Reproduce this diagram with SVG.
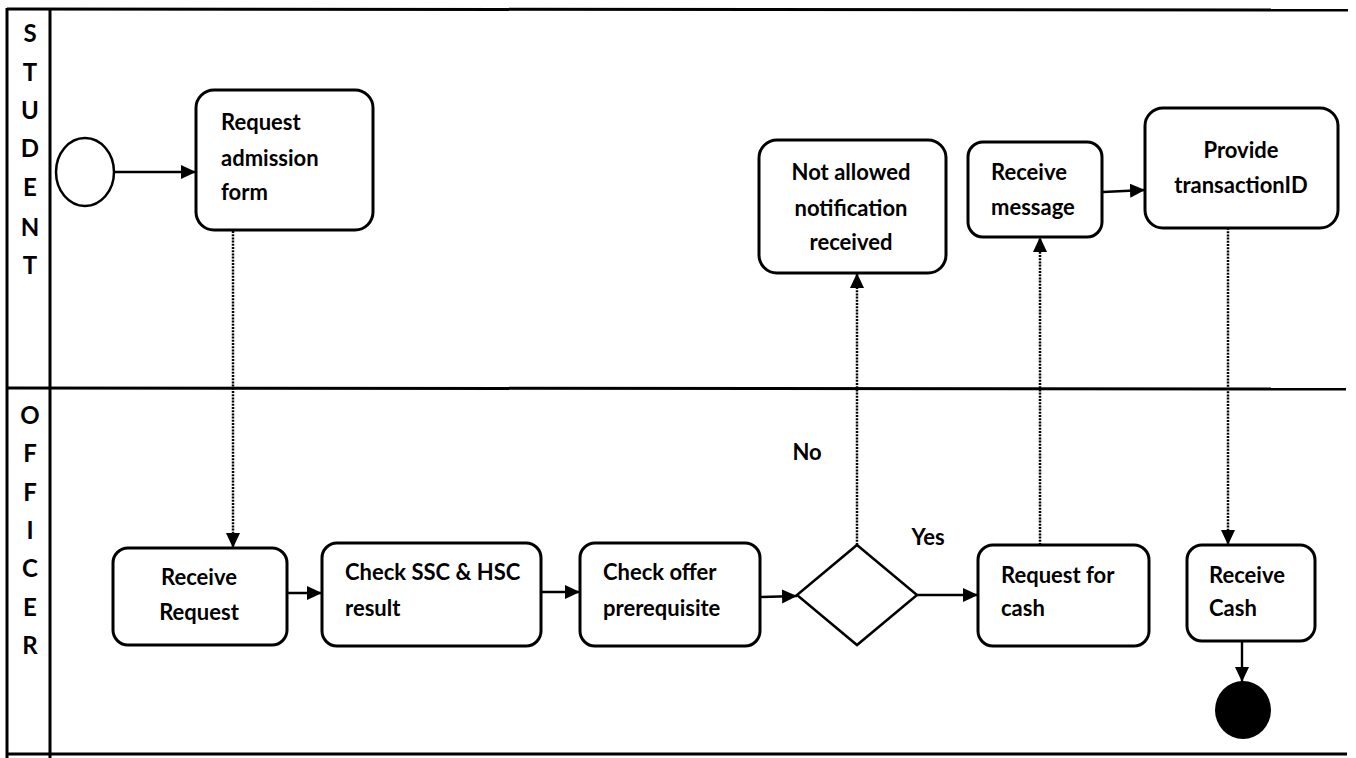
<svg xmlns="http://www.w3.org/2000/svg" width="1356" height="758" viewBox="0 0 1356 758">
<defs>
<style>
.lane{fill:none;stroke:#000;stroke-width:3}
.box{fill:#fff;stroke:#000;stroke-width:3}
.t{font-family:Lato,"Liberation Sans",sans-serif;font-weight:bold;font-size:22px;fill:#000}
.c{text-anchor:middle}
.lt{font-family:Lato,"Liberation Sans",sans-serif;font-weight:bold;font-size:24px;fill:#000;text-anchor:middle}
.solid{fill:none;stroke:#000;stroke-width:2.4}
.dot{fill:none;stroke:#000;stroke-width:2.5;stroke-dasharray:2 1.2}
</style>
<marker id="ah" markerUnits="userSpaceOnUse" markerWidth="18" markerHeight="16" refX="15" refY="7" orient="auto">
<path d="M0,0 L15,7 L0,14 Z" fill="#000"/>
</marker>
</defs>
<rect width="1356" height="758" fill="#fff"/>
<g id="lanes">
<line class="lane" x1="7" y1="9" x2="1348" y2="10"/>
<line class="lane" x1="7" y1="388" x2="1346" y2="389"/>
<line class="lane" x1="7" y1="754" x2="1347" y2="754"/>
<line class="lane" x1="7" y1="8" x2="7" y2="758"/>
<line class="lane" x1="50" y1="8" x2="50" y2="758"/>
<g id="lane-student">
<text class="lt" x="30" y="42">S</text>
<text class="lt" x="30" y="81">T</text>
<text class="lt" x="30" y="119">U</text>
<text class="lt" x="30" y="157">D</text>
<text class="lt" x="30" y="196">E</text>
<text class="lt" x="30" y="236">N</text>
<text class="lt" x="30" y="274">T</text>
</g>
<g id="lane-officer">
<text class="lt" x="30" y="424">O</text>
<text class="lt" x="30" y="462">F</text>
<text class="lt" x="30" y="501">F</text>
<text class="lt" x="30" y="539">I</text>
<text class="lt" x="30" y="577">C</text>
<text class="lt" x="30" y="616">E</text>
<text class="lt" x="30" y="654">R</text>
</g>
</g>
<g id="connectors">
<line class="solid" x1="115" y1="172" x2="196" y2="172" marker-end="url(#ah)"/>
<line class="dot" x1="233" y1="231" x2="233" y2="548" marker-end="url(#ah)"/>
<line class="solid" x1="288" y1="593" x2="322" y2="593" marker-end="url(#ah)"/>
<line class="solid" x1="542" y1="592" x2="580" y2="592" marker-end="url(#ah)"/>
<line class="solid" x1="761" y1="597" x2="797" y2="596" marker-end="url(#ah)"/>
<line class="dot" x1="857" y1="545" x2="857" y2="273" marker-end="url(#ah)"/>
<line class="solid" x1="917" y1="595" x2="978" y2="595" marker-end="url(#ah)"/>
<line class="dot" x1="1040" y1="545" x2="1040" y2="237" marker-end="url(#ah)"/>
<line class="solid" x1="1103" y1="192" x2="1145" y2="190" marker-end="url(#ah)"/>
<line class="dot" x1="1228" y1="228" x2="1228" y2="545" marker-end="url(#ah)"/>
<line class="solid" x1="1242" y1="641" x2="1242" y2="682" marker-end="url(#ah)"/>
<text class="t c" x="807" y="460">No</text>
<text class="t c" x="928" y="545">Yes</text>
</g>
<g id="start">
<ellipse cx="85" cy="172" rx="29" ry="34" fill="#fff" stroke="#000" stroke-width="2.5"/>
</g>
<g id="request-admission-form">
<rect class="box" x="196" y="90" width="177" height="140" rx="18"/>
<text class="t" x="221" y="130">Request</text>
<text class="t" x="221" y="166">admission</text>
<text class="t" x="221" y="200">form</text>
</g>
<g id="receive-request">
<rect class="box" x="113" y="548" width="174" height="97" rx="15"/>
<text class="t c" x="199" y="585">Receive</text>
<text class="t c" x="199" y="620">Request</text>
</g>
<g id="check-ssc-hsc">
<rect class="box" x="322" y="543" width="219" height="103" rx="15"/>
<text class="t" x="345" y="580">Check SSC &amp; HSC</text>
<text class="t" x="345" y="616">result</text>
</g>
<g id="check-offer">
<rect class="box" x="580" y="543" width="180" height="103" rx="15"/>
<text class="t" x="603" y="580">Check offer</text>
<text class="t" x="603" y="616">prerequisite</text>
</g>
<g id="decision">
<polygon points="857,545 917,595 857,645 797,595" fill="#fff" stroke="#000" stroke-width="2.5"/>
</g>
<g id="not-allowed">
<rect class="box" x="759" y="140" width="187" height="133" rx="18"/>
<text class="t c" x="851" y="180">Not allowed</text>
<text class="t c" x="851" y="216">notification</text>
<text class="t c" x="851" y="250">received</text>
</g>
<g id="receive-message">
<rect class="box" x="968" y="142" width="134" height="95" rx="15"/>
<text class="t" x="991" y="180">Receive</text>
<text class="t" x="991" y="215">message</text>
</g>
<g id="provide-transaction">
<rect class="box" x="1145" y="108" width="193" height="120" rx="18"/>
<text class="t c" x="1241" y="158">Provide</text>
<text class="t c" x="1241" y="193">transactionID</text>
</g>
<g id="request-cash">
<rect class="box" x="978" y="545" width="171" height="101" rx="15"/>
<text class="t" x="1001" y="583">Request for</text>
<text class="t" x="1001" y="616">cash</text>
</g>
<g id="receive-cash">
<rect class="box" x="1187" y="545" width="128" height="96" rx="15"/>
<text class="t" x="1209" y="583">Receive</text>
<text class="t" x="1209" y="616">Cash</text>
</g>
<g id="end">
<ellipse cx="1243" cy="710" rx="28" ry="29" fill="#000"/>
</g>
</svg>
